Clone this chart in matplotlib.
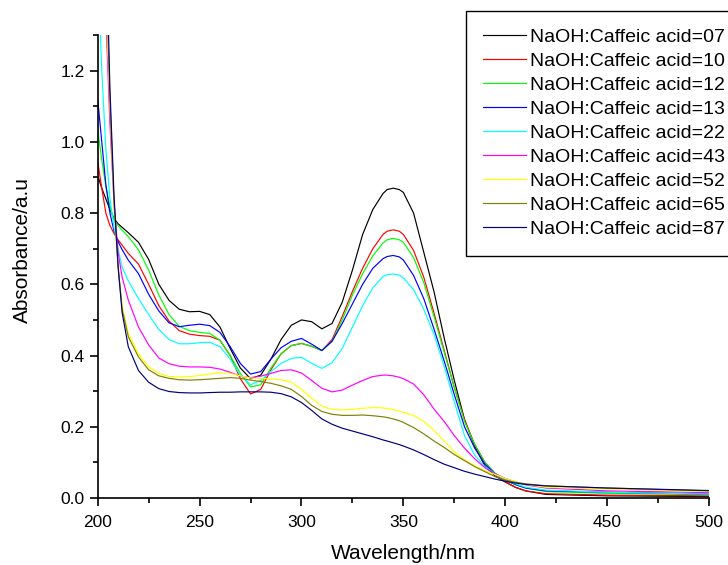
import matplotlib
matplotlib.use("Agg")
import matplotlib.pyplot as plt
from matplotlib.ticker import MultipleLocator, FormatStrFormatter

plt.rcParams['font.family'] = ['Liberation Sans', 'DejaVu Sans']

wavelength = [200, 202, 204, 206, 208, 210, 212, 215, 220, 225, 230, 235, 240, 245, 250,
              255, 260, 265, 270, 275, 280, 285, 290, 295, 300, 305, 310, 315, 320, 325,
              330, 335, 340, 342, 345, 348, 350, 355, 360, 365, 370, 375, 380, 385, 390, 395, 400,
              405, 410, 420, 450, 500]

r07 = [0.905, 0.87, 0.84, 0.81, 0.785, 0.77, 0.76, 0.745, 0.718, 0.67, 0.60, 0.555, 0.53, 0.523, 0.524,
       0.515, 0.48, 0.42, 0.365, 0.335, 0.345, 0.39, 0.445, 0.485, 0.50, 0.495, 0.475, 0.49, 0.55, 0.64,
       0.74, 0.81, 0.855, 0.866, 0.87, 0.866, 0.858, 0.80, 0.69, 0.58, 0.45, 0.33, 0.22, 0.145, 0.09, 0.062, 0.045,
       0.03, 0.02, 0.01, 0.006, 0.004]
r10 = [0.945, 0.87, 0.80, 0.765, 0.743, 0.725, 0.71, 0.687, 0.657, 0.60, 0.54, 0.497, 0.47, 0.46, 0.456,
       0.454, 0.443, 0.40, 0.335, 0.292, 0.305, 0.36, 0.405, 0.428, 0.434, 0.426, 0.414, 0.445, 0.51, 0.58,
       0.645, 0.70, 0.74, 0.749, 0.753, 0.749, 0.74, 0.695, 0.62, 0.52, 0.415, 0.31, 0.22, 0.15, 0.10, 0.068, 0.045,
       0.03, 0.02, 0.012, 0.008, 0.006]
r12 = [1.035, 0.95, 0.875, 0.82, 0.78, 0.765, 0.752, 0.734, 0.697, 0.64, 0.57, 0.515, 0.482, 0.47, 0.465,
       0.462, 0.443, 0.40, 0.35, 0.312, 0.318, 0.365, 0.405, 0.428, 0.434, 0.426, 0.414, 0.44, 0.50, 0.57,
       0.63, 0.68, 0.716, 0.725, 0.729, 0.725, 0.718, 0.675, 0.605, 0.51, 0.41, 0.31, 0.215, 0.15, 0.10, 0.07, 0.05,
       0.037, 0.028, 0.018, 0.013, 0.009]
r13 = [1.12, 1.00, 0.88, 0.80, 0.75, 0.72, 0.697, 0.668, 0.63, 0.572, 0.525, 0.492, 0.481, 0.485, 0.488,
       0.484, 0.465, 0.425, 0.378, 0.348, 0.355, 0.39, 0.422, 0.44, 0.448, 0.432, 0.414, 0.44, 0.49, 0.545,
       0.60, 0.645, 0.672, 0.678, 0.681, 0.677, 0.668, 0.625, 0.56, 0.475, 0.385, 0.29, 0.20, 0.14, 0.095, 0.068, 0.05,
       0.038, 0.028, 0.02, 0.016, 0.011]
r22 = [1.50, 1.20, 0.98, 0.84, 0.76, 0.70, 0.648, 0.61, 0.56, 0.515, 0.473, 0.445, 0.433, 0.433, 0.436,
       0.437, 0.425, 0.39, 0.345, 0.318, 0.33, 0.355, 0.378, 0.392, 0.395, 0.378, 0.364, 0.38, 0.42, 0.48,
       0.54, 0.59, 0.622, 0.627, 0.629, 0.626, 0.618, 0.585, 0.53, 0.46, 0.37, 0.27, 0.175, 0.12, 0.088, 0.068, 0.05,
       0.04, 0.03, 0.022, 0.016, 0.011]
r43 = [2.2, 1.75, 1.35, 1.05, 0.83, 0.69, 0.62, 0.556, 0.48, 0.43, 0.393, 0.377, 0.37, 0.368, 0.368,
       0.367, 0.362, 0.353, 0.342, 0.338, 0.342, 0.35, 0.358, 0.36, 0.351, 0.33, 0.308, 0.298, 0.303, 0.317,
       0.33, 0.341, 0.345, 0.345, 0.343, 0.339, 0.335, 0.32, 0.29, 0.25, 0.215, 0.175, 0.14, 0.11, 0.085, 0.068, 0.055,
       0.045, 0.037, 0.028, 0.02, 0.015]
r52 = [2.4, 1.9, 1.40, 1.10, 0.82, 0.65, 0.54, 0.462, 0.405, 0.368, 0.35, 0.341, 0.34, 0.341, 0.344,
       0.348, 0.352, 0.35, 0.343, 0.337, 0.336, 0.334, 0.332, 0.325, 0.305, 0.28, 0.258, 0.249, 0.247, 0.249,
       0.252, 0.254, 0.253, 0.251, 0.248, 0.244, 0.24, 0.232, 0.215, 0.19, 0.16, 0.13, 0.107, 0.09, 0.077, 0.066, 0.055,
       0.046, 0.038, 0.03, 0.025, 0.018]
r65 = [2.5, 2.0, 1.50, 1.12, 0.83, 0.65, 0.53, 0.453, 0.396, 0.36, 0.343, 0.336, 0.332, 0.331, 0.332,
       0.334, 0.336, 0.338, 0.336, 0.331, 0.327, 0.322, 0.315, 0.305, 0.285, 0.26, 0.243, 0.235, 0.232, 0.232,
       0.233, 0.231, 0.228, 0.226, 0.222, 0.217, 0.212, 0.198, 0.18, 0.16, 0.142, 0.122, 0.105, 0.088, 0.074, 0.06, 0.05,
       0.044, 0.04, 0.034, 0.028, 0.02]
r87 = [2.6, 2.1, 1.60, 1.15, 0.85, 0.65, 0.52, 0.425, 0.358, 0.325, 0.307, 0.299, 0.296, 0.295, 0.295,
       0.296, 0.297, 0.297, 0.298, 0.298, 0.298, 0.297, 0.293, 0.284, 0.268, 0.246, 0.222, 0.207, 0.196, 0.188,
       0.18, 0.172, 0.163, 0.16, 0.155, 0.15, 0.146, 0.135, 0.122, 0.108, 0.095, 0.085, 0.075, 0.067, 0.06, 0.053, 0.047,
       0.042, 0.038, 0.034, 0.028, 0.021]

series = [r07, r10, r12, r13, r22, r43, r52, r65, r87]
labels = ["NaOH:Caffeic acid=07", "NaOH:Caffeic acid=10", "NaOH:Caffeic acid=12",
          "NaOH:Caffeic acid=13", "NaOH:Caffeic acid=22", "NaOH:Caffeic acid=43",
          "NaOH:Caffeic acid=52", "NaOH:Caffeic acid=65", "NaOH:Caffeic acid=87"]
colors = ["#000000", "#ff0000", "#00ff00", "#0000ff", "#00ffff", "#ff00ff",
          "#ffff00", "#808000", "#000080"]

fig = plt.figure(figsize=(7.28, 5.65), dpi=100)
ax = fig.add_axes([0.1342, 0.1186, 0.8398, 0.8194])

for y, lab, c in zip(series, labels, colors):
    ax.plot(wavelength, y, color=c, lw=0.85, label=lab, solid_joinstyle='round')

ax.set_xlim(200, 500)
ax.set_ylim(0, 1.3)
ax.xaxis.set_major_locator(MultipleLocator(50))
ax.xaxis.set_minor_locator(MultipleLocator(25))
ax.yaxis.set_major_locator(MultipleLocator(0.2))
ax.yaxis.set_minor_locator(MultipleLocator(0.1))
ax.yaxis.set_major_formatter(FormatStrFormatter('%.1f'))

for s in ['top', 'right']:
    ax.spines[s].set_visible(False)
for s in ['left', 'bottom']:
    ax.spines[s].set_linewidth(1.2)

ax.tick_params(which='major', direction='out', length=6, width=1.2, labelsize=12.5)
ax.tick_params(which='minor', direction='out', length=3.5, width=1.2)
ax.tick_params(axis='x', which='major', pad=6)
ax.tick_params(axis='y', which='major', pad=3.5)

ax.set_xlabel("Wavelength/nm", fontsize=15, labelpad=10)
ax.set_ylabel("Absorbance/a.u", fontsize=15)
ax.yaxis.set_label_coords(-0.107, 0.536)

leg = ax.legend(loc='upper left', bbox_to_anchor=(466.0 / 728, 1 - 10.7 / 565),
                bbox_transform=fig.transFigure, borderaxespad=0, fontsize=14,
                frameon=True, fancybox=False, shadow=False, framealpha=1,
                edgecolor='black', handlelength=2.2, handletextpad=0.2,
                labelspacing=0.33, borderpad=0.9)
leg.get_frame().set_linewidth(1.0)

fig.savefig("out.png", dpi=100)
